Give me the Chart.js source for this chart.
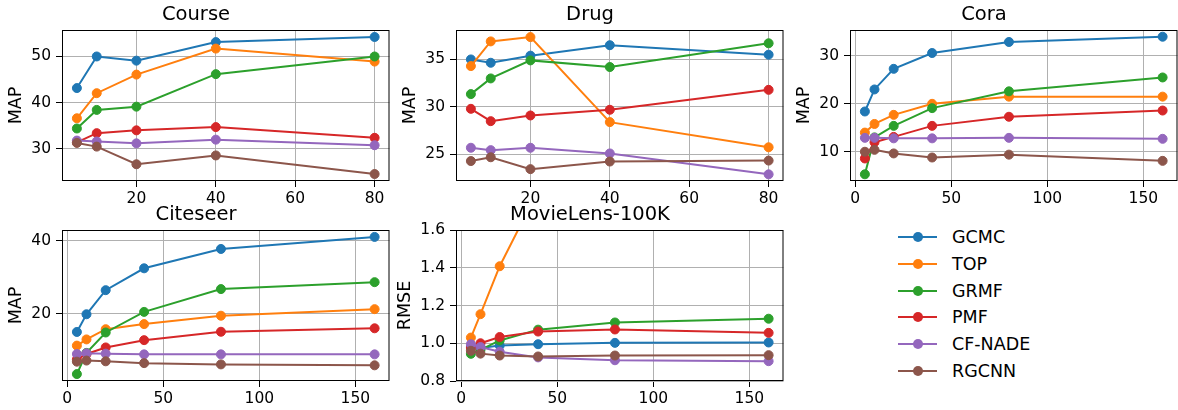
<!DOCTYPE html>
<html>
<head>
<meta charset="utf-8">
<script src="https://cdn.jsdelivr.net/npm/chart.js@4.4.0/dist/chart.umd.min.js"></script>
<style>
  body { margin: 0; background: #fff; overflow: hidden; width: 1178px; height: 410px; position: relative; font-family: "DejaVu Sans", sans-serif; }
  canvas { position: absolute; }
  .leg { position: absolute; left: 898px; height: 24px; width: 200px; }
  .leg .ln { position: absolute; left: 0; top: 11px; width: 39px; height: 2px; }
  .leg .dt { position: absolute; left: 14.5px; top: 7px; width: 10px; height: 10px; border-radius: 50%; }
  .leg .tx { position: absolute; left: 54px; top: 0; line-height: 24px; font-size: 17.5px; color: #000; white-space: nowrap; }
</style>
</head>
<body>
<canvas id="course" width="395" height="211" style="left:0px;top:0px"></canvas>
<canvas id="drug" width="395" height="211" style="left:394px;top:0px"></canvas>
<canvas id="cora" width="395" height="211" style="left:788px;top:0px"></canvas>
<canvas id="citeseer" width="395" height="211" style="left:0px;top:200px"></canvas>
<canvas id="movielens" width="395" height="211" style="left:394px;top:200px"></canvas>
<div id="legend"></div>
<script>
// methods and colours (matplotlib default cycle)
var methods = ["GCMC", "TOP", "GRMF", "PMF", "CF-NADE", "RGCNN"];
var colors = ["#1f77b4", "#ff7f0e", "#2ca02c", "#d62728", "#9467bd", "#8c564b"];

// x values
var xShort = [5, 10, 20, 40, 80];
var xLong = [5, 10, 20, 40, 80, 160];

// one row per method, same order as methods
var course = [
  [43.1, 49.9, 49.0, 53.0, 54.1],
  [36.6, 42.0, 46.0, 51.6, 48.8],
  [34.4, 38.4, 39.1, 46.1, 49.9],
  [31.4, 33.4, 34.0, 34.7, 32.4],
  [31.8, 31.6, 31.2, 32.0, 30.8],
  [31.3, 30.5, 26.7, 28.6, 24.6]
];
var drug = [
  [35.0, 34.65, 35.4, 36.5, 35.5],
  [34.3, 36.9, 37.35, 28.4, 25.75],
  [31.35, 33.0, 34.9, 34.2, 36.7],
  [29.8, 28.5, 29.1, 29.7, 31.8],
  [25.7, 25.45, 25.7, 25.1, 22.9],
  [24.3, 24.7, 23.45, 24.25, 24.35]
];
var cora = [
  [18.4, 23.0, 27.3, 30.6, 32.9, 34.0],
  [14.0, 15.8, 17.7, 20.0, 21.5, 21.5],
  [5.3, 13.0, 15.4, 19.1, 22.6, 25.5],
  [8.6, 12.0, 13.1, 15.4, 17.3, 18.6],
  [12.9, 12.9, 12.8, 12.8, 12.9, 12.7],
  [10.0, 10.4, 9.65, 8.8, 9.4, 8.1]
];
var citeseer = [
  [15.05, 19.9, 26.5, 32.5, 37.8, 41.1],
  [11.3, 13.0, 15.8, 17.2, 19.5, 21.3],
  [3.5, 9.3, 14.9, 20.55, 26.8, 28.7],
  [7.5, 9.0, 10.8, 12.8, 15.1, 16.05],
  [9.0, 9.2, 9.1, 8.9, 8.9, 8.9],
  [6.9, 7.2, 7.0, 6.5, 6.15, 5.9]
];
var movielens = [
  [0.98, 0.975, 0.988, 0.995, 1.002, 1.004],
  [1.03, 1.154, 1.408, 1.81, 2.3, 2.9],
  [0.944, 0.965, 1.015, 1.072, 1.11, 1.13],
  [0.975, 1.0, 1.033, 1.062, 1.073, 1.055],
  [0.995, 0.98, 0.955, 0.925, 0.91, 0.905],
  [0.96, 0.945, 0.935, 0.93, 0.935, 0.937]
];

// tick labels
var xTicksShort = [20, 40, 60, 80];
var xTicksLong = [0, 50, 100, 150];
var yTicksCourse = [30, 40, 50];
var yTicksDrug = [25, 30, 35];
var yTicksCora = [10, 20, 30];
var yTicksCiteseer = [20, 40];
var yTicksMovie = [0.8, 1.0, 1.2, 1.4, 1.6];

Chart.defaults.font.family = "'DejaVu Sans', sans-serif";
Chart.defaults.color = "#000";

// box around the plot like matplotlib spines
var frame = {
  id: "frame",
  afterDraw: function(chart) {
    var a = chart.chartArea, c = chart.ctx;
    c.save();
    c.strokeStyle = "#000";
    c.lineWidth = 1;
    c.strokeRect(a.left + 0.5, a.top + 0.5, a.right - a.left - 1, a.bottom - a.top - 1);
    c.restore();
  }
};

function makeChart(id, title, yLabel, xs, rows, xMin, xMax, xTicks, yMin, yMax, yTicks, yDigits, yPad) {
  var datasets = methods.map(function(m, i) {
    return {
      label: m,
      data: xs.map(function(x, j) { return { x: x, y: rows[i][j] }; }),
      borderColor: colors[i],
      backgroundColor: colors[i],
      pointBackgroundColor: colors[i],
      pointBorderColor: colors[i],
      borderWidth: 2,
      pointRadius: 4.5,
      pointBorderWidth: 1,
      tension: 0,
      order: methods.length - i
    };
  });
  var grid = { color: "#b0b0b0", tickColor: "#000", tickLength: 6, lineWidth: 1 };
  return new Chart(document.getElementById(id), {
    type: "line",
    data: { datasets: datasets },
    options: {
      responsive: false,
      animation: false,
      events: [],
      layout: { padding: { top: 0, right: 3, bottom: 0, left: 0 } },
      plugins: {
        legend: { display: false },
        tooltip: { enabled: false },
        title: { display: true, text: title, color: "#000", font: { size: 19.5, weight: "normal" }, padding: { top: 3.3, bottom: 3.3 } }
      },
      scales: {
        x: {
          type: "linear", min: xMin, max: xMax,
          afterBuildTicks: function(s) { s.ticks = xTicks.map(function(v) { return { value: v }; }); },
          afterFit: function(s) { s.height = 30; },
          ticks: { color: "#000", font: { size: 15.5 }, padding: 3, autoSkip: false, maxRotation: 0 },
          grid: grid,
          border: { display: false }
        },
        y: {
          min: yMin, max: yMax,
          afterBuildTicks: function(s) { s.ticks = yTicks.map(function(v) { return { value: v }; }); },
          afterFit: function(s) { s.width = 62; },
          ticks: {
            color: "#000", font: { size: 15.5 }, padding: 5, autoSkip: false,
            callback: function(v) { return v.toFixed(yDigits); }
          },
          title: { display: true, text: yLabel, color: "#000", font: { size: 17.5 }, padding: { top: yPad, bottom: 0 } },
          grid: grid,
          border: { display: false }
        }
      }
    },
    plugins: [frame]
  });
}

makeChart("course", "Course", "MAP", xShort, course, 1.25, 83.75, xTicksShort, 23.1, 55.6, yTicksCourse, 0, 5.5);
makeChart("drug", "Drug", "MAP", xShort, drug, 1.25, 83.75, xTicksShort, 22.2, 38.1, yTicksDrug, 0, 5.5);
makeChart("cora", "Cora", "MAP", xLong, cora, -2.75, 167.75, xTicksLong, 3.9, 35.4, yTicksCora, 0, 5.5);
makeChart("citeseer", "Citeseer", "MAP", xLong, citeseer, -2.75, 167.75, xTicksLong, 1.6, 43.0, yTicksCiteseer, 0, 5.5);
makeChart("movielens", "MovieLens-100K", "RMSE", xLong, movielens, -2.75, 167.75, xTicksLong, 0.8, 1.6, yTicksMovie, 1, 0.5);

// legend in the empty sixth panel
var leg = document.getElementById("legend");
methods.forEach(function(m, i) {
  var d = document.createElement("div");
  d.className = "leg";
  d.style.top = (236.7 + i * 26.9 - 12) + "px";
  d.innerHTML = '<span class="ln" style="background:' + colors[i] + '"></span>' +
                '<span class="dt" style="background:' + colors[i] + '"></span>' +
                '<span class="tx">' + m + '</span>';
  leg.appendChild(d);
});
</script>
</body>
</html>
